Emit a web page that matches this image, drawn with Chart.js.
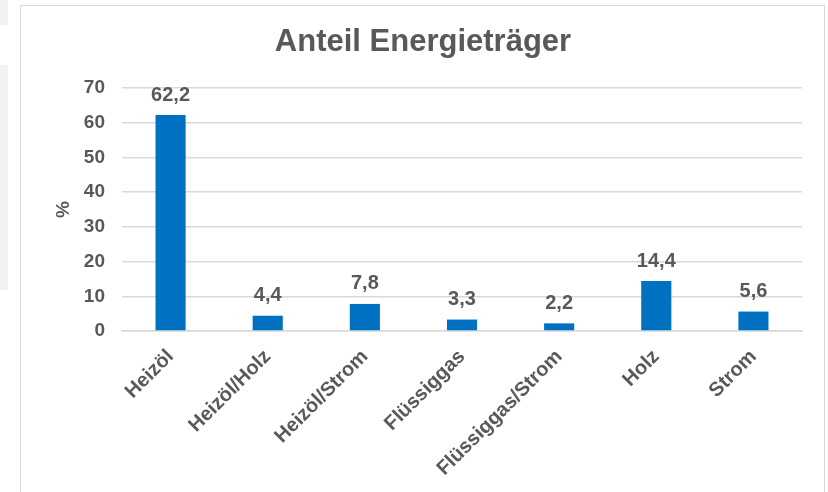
<!DOCTYPE html>
<html lang="de">
<head>
<meta charset="utf-8">
<title>Anteil Energieträger</title>
<script src="https://cdn.jsdelivr.net/npm/chart.js@4.4.1/dist/chart.umd.min.js"></script>
<style>
  html, body { margin: 0; padding: 0; background: #fff; }
  body { width: 828px; height: 492px; position: relative; overflow: hidden; }
  .side { position: absolute; left: 0; width: 8px; background: #f2f2f2; }
  .frame {
    position: absolute; left: 20px; top: 5px; width: 805px; height: 500px;
    border: 1.5px solid #d9d9d9; box-sizing: border-box;
  }
  #chart { position: absolute; left: 0; top: 0; }
</style>
</head>
<body>
<div class="side" style="top:0;height:25px"></div>
<div class="side" style="top:65px;height:225px"></div>
<div class="frame"></div>
<canvas id="chart" width="828" height="492"></canvas>
<script>
const categories = ['Heizöl', 'Heizöl/Holz', 'Heizöl/Strom', 'Flüssiggas', 'Flüssiggas/Strom', 'Holz', 'Strom'];
const shares = [62.2, 4.4, 7.8, 3.3, 2.2, 14.4, 5.6];
const yTicks = [0, 10, 20, 30, 40, 50, 60, 70];

const TEXT = '#595959';
const FONT = "'Liberation Sans', Arial, sans-serif";

// title drawn by hand so it can sit off-centre like the original
const titlePlugin = {
  id: 'ownTitle',
  afterDraw(chart) {
    const ctx = chart.ctx;
    ctx.save();
    ctx.font = 'bold 31px ' + FONT;
    ctx.fillStyle = TEXT;
    ctx.textAlign = 'center';
    ctx.textBaseline = 'middle';
    ctx.fillText('Anteil Energieträger', 423, 42);
    ctx.restore();
  }
};

// value labels above the bars, German decimal comma
const valueLabels = {
  id: 'valueLabels',
  afterDatasetsDraw(chart) {
    const ctx = chart.ctx;
    const meta = chart.getDatasetMeta(0);
    ctx.save();
    ctx.font = 'bold 20px ' + FONT;
    ctx.fillStyle = TEXT;
    ctx.textAlign = 'center';
    ctx.textBaseline = 'middle';
    meta.data.forEach((bar, i) => {
      const txt = shares[i].toFixed(1).replace('.', ',');
      ctx.fillText(txt, bar.x, bar.y - 20);
    });
    ctx.restore();
  }
};

new Chart(document.getElementById('chart'), {
  type: 'bar',
  data: {
    labels: categories,
    datasets: [{
      data: shares,
      backgroundColor: '#0070c0',
      categoryPercentage: 1,
      barPercentage: 0.31
    }]
  },
  options: {
    responsive: false,
    animation: false,
    layout: { padding: { top: 88, right: 26, bottom: 0, left: 0 } },
    plugins: {
      legend: { display: false },
      title: { display: false },
      tooltip: { enabled: false }
    },
    scales: {
      x: {
        grid: { display: false },
        border: { display: true, color: '#d9d9d9', width: 1.5 },
        ticks: {
          color: TEXT,
          font: { family: FONT, size: 20, weight: 'bold' },
          minRotation: 45,
          maxRotation: 45,
          padding: 6
        },
        afterFit(scale) { scale.height = 161; }
      },
      y: {
        min: 0,
        max: 70,
        grid: { color: '#d9d9d9', lineWidth: 1.5, drawTicks: false },
        border: { display: false },
        afterBuildTicks(scale) { scale.ticks = yTicks.map(v => ({ value: v })); },
        ticks: {
          color: TEXT,
          font: { family: FONT, size: 19, weight: 'bold' },
          padding: 17
        },
        title: {
          display: true,
          text: '%',
          color: TEXT,
          font: { family: FONT, size: 19, weight: 'bold' },
          padding: { top: 52, bottom: 0 }
        },
        afterFit(scale) { scale.width = 122; }
      }
    }
  },
  plugins: [titlePlugin, valueLabels]
});
</script>
</body>
</html>
